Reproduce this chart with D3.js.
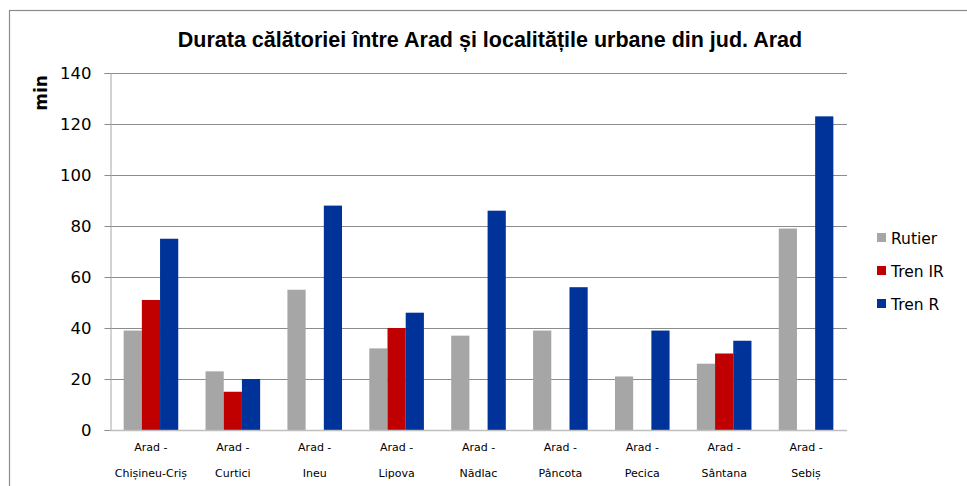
<!DOCTYPE html>
<html>
<head>
<meta charset="utf-8">
<script src="https://cdn.jsdelivr.net/npm/d3@7"></script>
<style>
  html, body { margin: 0; padding: 0; background: #fff; }
  svg { display: block; }
</style>
</head>
<body>
<svg id="chart" width="967" height="486"></svg>
<script>
// Travel time (minutes) from Arad to the urban localities of Arad county
const categories = ["Chișineu-Criș", "Curtici", "Ineu", "Lipova", "Nădlac", "Pâncota", "Pecica", "Sântana", "Sebiș"];
const seriesNames = ["Rutier", "Tren IR", "Tren R"];
const rutier = [39, 23, 55, 32, 37, 39, 21, 26, 79];
const trenIR = [51, 15, null, 40, null, null, null, 30, null];
const trenR  = [75, 20, 88, 46, 86, 56, 39, 35, 123];
const yTicks = [0, 20, 40, 60, 80, 100, 120, 140];
const colors = ["#a6a6a6", "#c00000", "#003399"];

const series = [rutier, trenIR, trenR];
const svg = d3.select("#chart");
const margin = { left: 110, right: 120, top: 73, bottom: 56 };
const W = 967, H = 486;

// outer chart frame
svg.append("rect")
  .attr("x", 9.5).attr("y", 10.5)
  .attr("width", W).attr("height", H)
  .attr("fill", "none").attr("stroke", "#8c8c8c").attr("stroke-width", 1.2);

const x0 = d3.scaleBand()
  .domain(categories)
  .range([margin.left, W - margin.right])
  .paddingInner(0.3333).paddingOuter(0.1667);
const x1 = d3.scaleBand()
  .domain(seriesNames)
  .range([0, x0.bandwidth()]);
const y = d3.scaleLinear()
  .domain([0, 140])
  .range([H - margin.bottom, margin.top]);

// gridlines
svg.append("g")
  .selectAll("line")
  .data(yTicks.filter(d => d > 0))
  .join("line")
  .attr("x1", margin.left).attr("x2", W - margin.right)
  .attr("y1", d => Math.round(y(d)) + 0.5).attr("y2", d => Math.round(y(d)) + 0.5)
  .attr("stroke", "#8c8c8c").attr("stroke-width", 1);

// y axis
const yAxis = svg.append("g")
  .attr("transform", `translate(${margin.left + 0.5},0)`)
  .call(d3.axisLeft(y).tickValues(yTicks).tickSize(6).tickPadding(13).tickFormat(d3.format("d")));
yAxis.select(".domain").attr("stroke", "#a6a6a6");
yAxis.selectAll(".tick line").attr("stroke", "#8c8c8c");
yAxis.selectAll(".tick text")
  .attr("font-family", "DejaVu Sans, sans-serif")
  .attr("font-size", 16.5).attr("fill", "#000");

// bars
const groups = svg.append("g")
  .selectAll("g")
  .data(categories)
  .join("g")
  .attr("transform", d => `translate(${x0(d)},0)`);

groups.selectAll("rect")
  .data((d, i) => seriesNames.map((s, k) => ({ s, v: series[k][i], k })).filter(e => e.v != null))
  .join("rect")
  .attr("x", d => x1(d.s))
  .attr("width", x1.bandwidth())
  .attr("y", d => y(d.v))
  .attr("height", d => y(0) - y(d.v))
  .attr("fill", d => colors[d.k]);

// x axis baseline
svg.append("line")
  .attr("x1", margin.left).attr("x2", W - margin.right)
  .attr("y1", Math.round(y(0)) + 0.5).attr("y2", Math.round(y(0)) + 0.5)
  .attr("stroke", "#bfbfbf").attr("stroke-width", 1.5);

// category labels (two lines)
const xl = svg.append("g")
  .selectAll("text")
  .data(categories)
  .join("text")
  .attr("x", d => x0(d) + x0.bandwidth() / 2)
  .attr("text-anchor", "middle")
  .attr("font-family", "DejaVu Sans, sans-serif")
  .attr("font-size", 11)
  .attr("fill", "#000");
xl.append("tspan").attr("x", d => x0(d) + x0.bandwidth() / 2).attr("y", 451).text("Arad -");
xl.append("tspan").attr("x", d => x0(d) + x0.bandwidth() / 2).attr("y", 477).text(d => d);

// title
svg.append("text")
  .attr("x", 490).attr("y", 47)
  .attr("text-anchor", "middle")
  .attr("font-family", "Liberation Sans, Arial, sans-serif")
  .attr("font-weight", "bold")
  .attr("font-size", 21.5)
  .text("Durata călătoriei între Arad și localitățile urbane din jud. Arad");

// y axis title
svg.append("text")
  .attr("transform", "translate(47,93) rotate(-90)")
  .attr("text-anchor", "middle")
  .attr("font-family", "DejaVu Sans, sans-serif")
  .attr("font-weight", "bold")
  .attr("font-size", 17)
  .text("min");

// legend
const legend = svg.append("g")
  .selectAll("g")
  .data(seriesNames)
  .join("g")
  .attr("transform", (d, i) => `translate(877,${238 + i * 33})`);
legend.append("rect")
  .attr("x", 0).attr("y", -5).attr("width", 9).attr("height", 9)
  .attr("fill", (d, i) => colors[i]);
legend.append("text")
  .attr("x", 14).attr("y", 6)
  .attr("font-family", "DejaVu Sans, sans-serif")
  .attr("font-size", 15.5)
  .attr("fill", "#000")
  .text(d => d);
</script>
</body>
</html>
